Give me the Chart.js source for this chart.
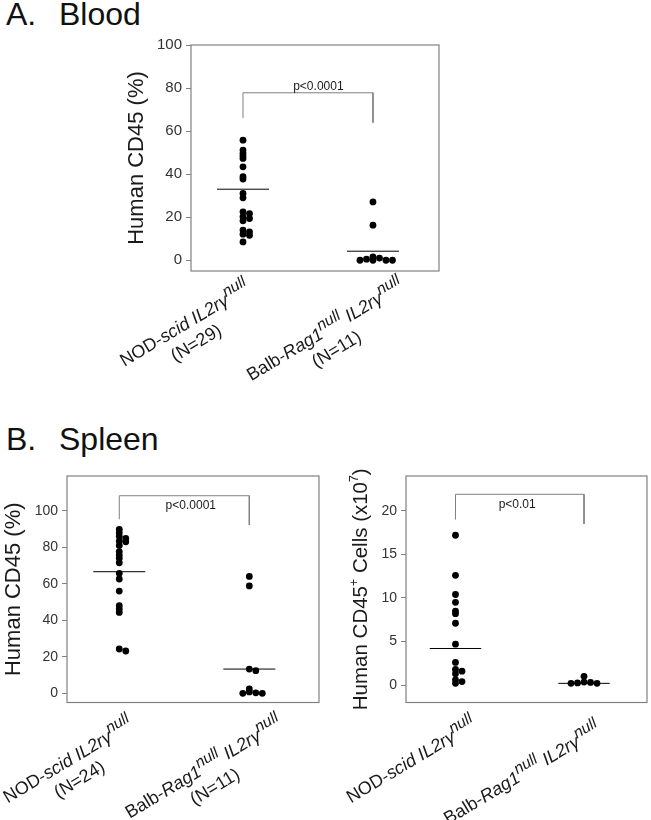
<!DOCTYPE html>
<html>
<head>
<meta charset="utf-8">
<script src="https://cdn.jsdelivr.net/npm/chart.js@4.4.0/dist/chart.umd.min.js"></script>
<style>
  body { margin: 0; background: #fff; }
  #page { position: relative; width: 651px; height: 820px; overflow: hidden; font-family: "Liberation Sans", Arial, sans-serif; color: #111; }
  canvas { position: absolute; }
  .ttl { position: absolute; font-size: 32px; line-height: 32px; white-space: pre; }
</style>
</head>
<body>
<div id="page">
  <div class="ttl" style="left:6px;top:-2px">A.</div>
  <div class="ttl" style="left:59px;top:-2px">Blood</div>
  <div class="ttl" style="left:6px;top:423px">B.</div>
  <div class="ttl" style="left:59px;top:423px">Spleen</div>
  <canvas id="blood" width="651" height="410" style="left:0;top:0"></canvas>
  <canvas id="spleenPct" width="330" height="400" style="left:0;top:420px"></canvas>
  <canvas id="spleenCells" width="321" height="400" style="left:330px;top:420px"></canvas>
</div>
<script>
const FONT = '"Liberation Sans", Arial, sans-serif';

// categories ({i:..} italic, {n:..} italic superscript, {s:..} superscript)
const categories = ["NOD-{i:scid} {i:IL2rγ}{n:null}", "Balb-{i:Rag1}{n:null} {i:IL2rγ}{n:null}"];
const bloodCounts = ["(N=29)", "(N=11)"];
const spleenCounts = ["(N=24)", "(N=11)"];

// A. Blood, human CD45 (%)
const bloodNod = [55.8, 51.2, 49.6, 48.4, 47.3, 43.4, 38.8, 37.7, 31.0, 29.0, 22.5, 21.7, 20.2, 19.4, 18.3, 14.0, 13.2, 12.1, 11.6, 8.5];
const bloodBalb = [27.1, 16.3, 1.5, 1.0, 0.5, 0, 0, 0, 0];
const bloodMeans = [33.0, 4.2];
const bloodBracket = [66, 77.8, 63.9];
const bloodTicks = [0, 20, 40, 60, 80, 100];

// B. Spleen, human CD45 (%)
const spleenPctNod = [89.8, 88, 86, 84.9, 83.4, 83, 81, 77.6, 75.7, 74, 71.5, 65.7, 62.6, 56, 48, 46.2, 44.3, 24.3, 23.2];
const spleenPctBalb = [64.0, 58.8, 13.3, 12.4, 2.4, 0.8, 0.3, 0, 0];
const spleenPctMeans = [66.6, 13.3];
const spleenPctBracket = [95.3, 108.2, 92.2];
const spleenPctTicks = [0, 20, 40, 60, 80, 100];

// B. Spleen, human CD45+ cells (x10^7)
const spleenCellNod = [17.2, 12.6, 10.4, 9.5, 8.5, 8.2, 7.1, 4.7, 2.6, 1.8, 1.6, 1.3, 0.6, 0.4, 0.2];
const spleenCellBalb = [1.0, 0.35, 0.3, 0.25, 0.2, 0.2];
const spleenCellMeans = [4.2, 0.2];
const spleenCellBracket = [19, 21.9, 18.5];
const spleenCellTicks = [0, 5, 10, 15, 20];

function parseRich(s) {
    const out = [];
    const re = /\{([isn]):([^}]*)\}|([^{]+)/g;
    let m;
    while ((m = re.exec(s))) {
        if (m[3]) out.push({ t: m[3], it: false, sup: 0 });
        else out.push({ t: m[2], it: m[1] !== 's', sup: m[1] === 'i' ? 0 : (m[1] === 'n' ? 1 : 2) });
    }
    return out;
}

function segFont(seg, size) {
    const sz = seg.sup === 1 ? size * 0.88 : seg.sup === 2 ? size * 0.6 : size;
    return (seg.it ? 'italic ' : '') + sz.toFixed(1) + 'px ' + FONT;
}

function drawRich(ctx, segs, x, y, size, align) {
    let total = 0;
    segs.forEach(s => { ctx.font = segFont(s, size); s.w = ctx.measureText(s.t).width; total += s.w; });
    let cx = align === 'right' ? x - total : align === 'center' ? x - total / 2 : x;
    ctx.textAlign = 'left';
    segs.forEach(s => {
        ctx.font = segFont(s, size);
        const lift = s.sup === 1 ? size * 0.42 : s.sup === 2 ? size * 0.45 : 0;
        ctx.fillText(s.t, cx, y - lift);
        cx += s.w;
    });
    return total;
}

// box, axis title, p value, rotated category labels
const decor = {
    id: 'decor',
    afterDraw(chart, args, o) {
        const ctx = chart.ctx, a = chart.chartArea;
        const xs = chart.scales.x, ys = chart.scales.y;
        ctx.save();
        ctx.strokeStyle = '#808080';
        ctx.lineWidth = 1.2;
        ctx.strokeRect(a.left, a.top, a.right - a.left, a.bottom - a.top);

        ctx.fillStyle = '#1a1a1a';
        ctx.font = '12px ' + FONT;
        ctx.textAlign = 'center';
        ctx.fillText(o.pText, xs.getPixelForValue(o.pAt), ys.getPixelForValue(o.bracketTop) + o.pShift);

        ctx.save();
        ctx.translate(o.titleX, (a.top + a.bottom) / 2);
        ctx.rotate(-Math.PI / 2);
        drawRich(ctx, parseRich(o.yTitle), 0, o.titleSize * 0.36, o.titleSize, 'center');
        ctx.restore();

        categories.forEach((c, i) => {
            ctx.save();
            ctx.translate(xs.getPixelForValue(i) + o.labelDx[i], a.bottom + o.labelDy[i]);
            ctx.rotate(-o.angle * Math.PI / 180);
            const w = drawRich(ctx, parseRich(c), 0, 0, 18, 'right');
            if (o.counts) drawRich(ctx, parseRich(o.counts[i]), -w / 2, 22, 18, 'center');
            ctx.restore();
        });
        ctx.restore();
    }
};

// spread overlapping dots sideways, like a dot plot
function swarm(vals, center, xs, ys) {
    const pxX = xs.getPixelForValue(1) - xs.getPixelForValue(0);
    const pxY = ys.getPixelForValue(0) - ys.getPixelForValue(1);
    const placed = [];
    return vals.map(v => {
        const py = v * pxY;
        let off = 0;
        for (let k = 0; k < 30; k++) {
            off = (k % 2 ? 1 : -1) * Math.ceil(k / 2) * 6.5;
            if (!placed.some(p => Math.abs(p.x - off) < 6 && Math.abs(p.y - py) < 2.2)) break;
        }
        placed.push({ x: off, y: py });
        return { x: center + off / pxX, y: v };
    });
}

function makePanel(id, o) {
    const chart = new Chart(document.getElementById(id), {
        type: 'scatter',
        data: {
            datasets: [
                ...o.groups.map((g, i) => ({
                    data: g.map(v => ({ x: i, y: v })),
                    pointRadius: 3.4, backgroundColor: '#000', borderWidth: 0
                })),
                ...o.means.map((m, i) => ({
                    data: [{ x: i - 0.2, y: m }, { x: i + 0.2, y: m }],
                    showLine: true, borderColor: '#000', borderWidth: 1, pointRadius: 0
                })),
                {
                    data: [{ x: 0, y: o.bracket[0] }, { x: 0, y: o.bracket[1] }, { x: 1, y: o.bracket[1] }, { x: 1, y: o.bracket[2] }],
                    showLine: true, borderColor: '#808080', borderWidth: 1, pointRadius: 0
                }
            ]
        },
        options: {
            responsive: false,
            animation: false,
            events: [],
            devicePixelRatio: 1,
            layout: { padding: o.pad },
            plugins: {
                legend: { display: false },
                tooltip: { enabled: false },
                decor: Object.assign({ bracketTop: o.bracket[1] }, o.decor)
            },
            scales: {
                x: { type: 'linear', display: false, min: o.xMin, max: o.xMax },
                y: {
                    min: o.yMin, max: o.yMax,
                    afterBuildTicks: s => { s.ticks = o.yTicks.map(v => ({ value: v })); },
                    afterFit: s => { s.width = o.yWidth; },
                    grid: { drawOnChartArea: false, tickLength: 5, color: '#808080' },
                    border: { display: false },
                    ticks: { color: '#333', padding: 4, font: { family: FONT, size: o.tickSize } }
                }
            }
        },
        plugins: [decor]
    });
    o.groups.forEach((g, i) => { chart.data.datasets[i].data = swarm(g, i, chart.scales.x, chart.scales.y); });
    chart.update('none');
}

makePanel('blood', {
    groups: [bloodNod, bloodBalb], means: bloodMeans, bracket: bloodBracket, yTicks: bloodTicks,
    yMin: -5, yMax: 100, xMin: -0.4, xMax: 1.508, yWidth: 191, tickSize: 15,
    pad: { left: 0, top: 45, right: 212, bottom: 139 },
    decor: { pText: 'p<0.0001', pAt: 0.58, pShift: -3, yTitle: 'Human CD45 (%)', titleX: 135, titleSize: 22,
             angle: 31, labelDx: [8, 32], labelDy: [20, 18], counts: bloodCounts }
});

makePanel('spleenPct', {
    groups: [spleenPctNod, spleenPctBalb], means: spleenPctMeans, bracket: spleenPctBracket, yTicks: spleenPctTicks,
    yMin: -5, yMax: 119, xMin: -0.402, xMax: 1.536, yWidth: 67, tickSize: 14,
    pad: { left: 0, top: 56, right: 11, bottom: 117.5 },
    decor: { pText: 'p<0.0001', pAt: 0.55, pShift: 13.5, yTitle: 'Human CD45 (%)', titleX: 12, titleSize: 22,
             angle: 31, labelDx: [15, 34], labelDy: [25, 24], counts: spleenCounts }
});

makePanel('spleenCells', {
    groups: [spleenCellNod, spleenCellBalb], means: spleenCellMeans, bracket: spleenCellBracket, yTicks: spleenCellTicks,
    yMin: -2, yMax: 24, xMin: -0.385, xMax: 1.49, yWidth: 76, tickSize: 14,
    pad: { left: 0, top: 56, right: 1, bottom: 117.5 },
    decor: { pText: 'p<0.01', pAt: 0.48, pShift: 13.5, yTitle: 'Human CD45{s:+} Cells (x10{s:7})', titleX: 30, titleSize: 20.5,
             angle: 31, labelDx: [22, 18], labelDy: [25, 30], counts: null }
});
</script>
</body>
</html>
